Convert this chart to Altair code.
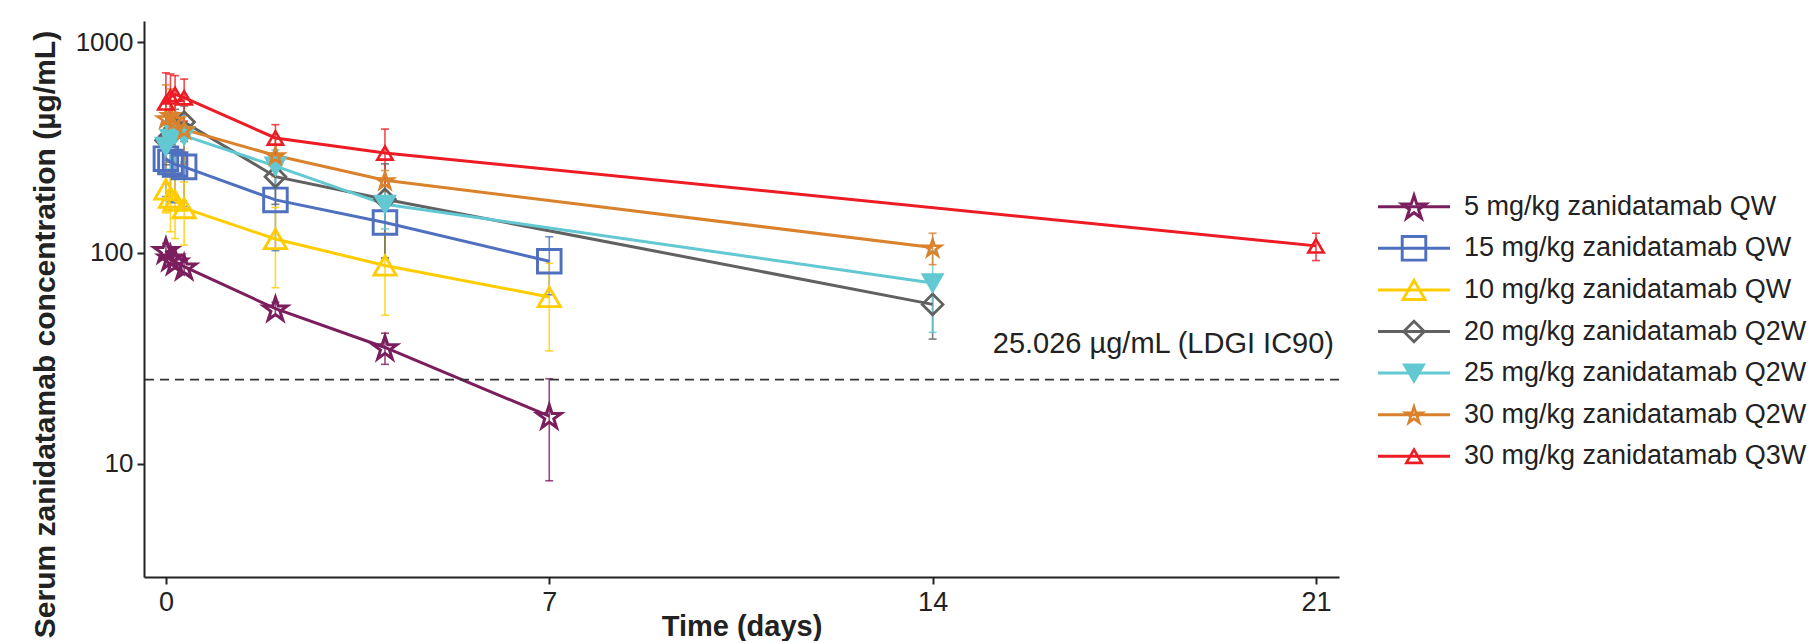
import altair as alt
import pandas as pd

FONT = "Liberation Sans"

SERIES = [
    "5 mg/kg zanidatamab QW",
    "15 mg/kg zanidatamab QW",
    "10 mg/kg zanidatamab QW",
    "20 mg/kg zanidatamab Q2W",
    "25 mg/kg zanidatamab Q2W",
    "30 mg/kg zanidatamab Q2W",
    "30 mg/kg zanidatamab Q3W",
]
COLORS = ["#7A1E5E", "#4F6FBF", "#FFCC00", "#616161", "#62C8D2", "#D9822B", "#ED1C24"]

# time points (days)
t_qw = [0, 0.083, 0.167, 0.333, 2, 4, 7]
t_q2w = [0, 0.083, 0.167, 0.333, 2, 4, 14]
t_q3w = [0, 0.083, 0.167, 0.333, 2, 4, 21]

# mean concentrations (µg/mL) and SD
mean_5qw = [103, 95, 91, 86, 54.4, 35.6, 16.8]
sd_5qw = [8, 7, 7, 6, 4, 6, 8.5]
mean_15qw = [280, 270, 263, 256, 178.5, 139.5, 91.3]
sd_15qw = [95, 95, 90, 90, 76, 45, 28]
mean_10qw = [200, 183, 177, 163, 116.4, 87.2, 61.8]
sd_10qw = [45, 57, 60, 54, 48, 36.6, 27.5]
mean_20q2w = [342, 360, 390, 418, 230, 179.7, 57]
sd_20q2w = [80, 90, 90, 80, 60, 85, 18]
mean_25q2w = [320, 350, 365, 360, 258, 170, 72]
sd_25q2w = [90, 100, 100, 90, 50, 40, 30]
mean_30q2w = [435, 450, 430, 385, 290, 221, 106]
sd_30q2w = [192, 150, 130, 120, 60, 25, 18]
mean_30q3w = [515, 550, 565, 545, 351, 298, 108]
sd_30q3w = [200, 156, 129, 123, 55, 89, 16]

LDGI_IC90 = 25.026
LDGI_LABEL = "25.026 µg/mL (LDGI IC90)"

X_TICKS = [0, 7, 14, 21]
Y_TICKS = [10, 100, 1000]

STAR = ("M0,-0.905L0.2245,-0.214L0.951,-0.214L0.363,0.213L0.588,0.904L0,0.477"
        "L-0.588,0.904L-0.363,0.213L-0.951,-0.214L-0.2245,-0.214Z")
SHAPES = [STAR, "square", "triangle-up", "diamond", "triangle-down", STAR, "triangle-up"]
FILLS = ["transparent", "transparent", "transparent", "transparent", "#62C8D2",
         "transparent", "transparent"]
SIZES = [620, 235, 450, 330, 260, 620, 210]
STROKES = [3.0, 2.6, 3.0, 2.6, 2.0, 3.0, 4.0]

times = [t_qw, t_qw, t_qw, t_q2w, t_q2w, t_q2w, t_q3w]
means = [mean_5qw, mean_15qw, mean_10qw, mean_20q2w, mean_25q2w, mean_30q2w, mean_30q3w]
sds = [sd_5qw, sd_15qw, sd_10qw, sd_20q2w, sd_25q2w, sd_30q2w, sd_30q3w]

rows = []
for name, tt, mm, ss in zip(SERIES, times, means, sds):
    for ti, mi, si in zip(tt, mm, ss):
        rows.append({"series": name, "t": ti, "conc": mi, "lo": mi - si, "hi": mi + si})
df = pd.DataFrame(rows)

XT = "Time (days)"
YT = "Serum zanidatamab concentration (µg/mL)"
xscale = alt.Scale(domain=[-0.4, 21.42], nice=False, zero=False)
yscale = alt.Scale(type="log", domain=[2.9, 1260], nice=False)
xaxis = alt.Axis(values=X_TICKS, title=XT, labelFontSize=27, labelPadding=5, titlePadding=-3)
yaxis = alt.Axis(values=Y_TICKS, format="d", title=YT, labelFontSize=26, labelPadding=4,
                 titlePadding=15, titleY=313, titleFontSize=30)

def X(f):
    return alt.X(f, scale=xscale, axis=xaxis, title=XT)

def Y(f):
    return alt.Y(f, scale=yscale, axis=yaxis, title=YT)

color = alt.Color("series:N", scale=alt.Scale(domain=SERIES, range=COLORS), legend=None)
shape = alt.Shape("series:N", scale=alt.Scale(domain=SERIES, range=SHAPES), legend=None)
fill = alt.Fill("series:N", scale=alt.Scale(domain=SERIES, range=FILLS), legend=None)
size = alt.Size("series:N", scale=alt.Scale(domain=SERIES, range=SIZES), legend=None)
sw = alt.StrokeWidth("series:N", scale=alt.Scale(domain=SERIES, range=STROKES), legend=None)

base = alt.Chart(df)
err = base.mark_rule(strokeWidth=1.6, opacity=0.8).encode(
    x=X("t:Q"), y=Y("lo:Q"), y2="hi:Q", color=color)
cap_lo = base.mark_point(shape="stroke", size=64, strokeWidth=1.6, opacity=0.8).encode(
    x=X("t:Q"), y=Y("lo:Q"), color=color)
cap_hi = base.mark_point(shape="stroke", size=64, strokeWidth=1.6, opacity=0.8).encode(
    x=X("t:Q"), y=Y("hi:Q"), color=color)
lines = base.mark_line(strokeWidth=3).encode(x=X("t:Q"), y=Y("conc:Q"), color=color)
pts = base.mark_point(filled=False, opacity=1).encode(
    x=X("t:Q"), y=Y("conc:Q"), color=color, shape=shape, fill=fill, size=size,
    strokeWidth=sw)

ref_df = pd.DataFrame({"conc": [LDGI_IC90], "label": [LDGI_LABEL]})
ref = alt.Chart(ref_df).mark_rule(strokeDash=[9, 6], strokeWidth=1.8, color="#333333").encode(
    y=Y("conc:Q"))
ref_txt = alt.Chart(ref_df).mark_text(
    align="right", baseline="alphabetic", dy=-27, fontSize=29, font=FONT, color="#222222"
).encode(x=alt.value(1190), y=Y("conc:Q"), text="label:N")

main = alt.layer(err, cap_lo, cap_hi, lines, pts, ref, ref_txt).properties(
    width=1195, height=556)

leg_df = pd.DataFrame({"series": SERIES})
ly = alt.Y("series:N", sort=SERIES, axis=None, scale=alt.Scale(type="point", range=[165, 456]))
leg_base = alt.Chart(leg_df)
leg_line = leg_base.mark_rule(strokeWidth=3).encode(
    x=alt.value(0), x2=alt.value(72), y=ly, color=color)
leg_pt = leg_base.mark_point(filled=False, opacity=1).encode(
    x=alt.value(36), y=ly, color=color, shape=shape, fill=fill, size=size, strokeWidth=sw)
leg_txt = leg_base.mark_text(align="left", baseline="middle", fontSize=27, font=FONT,
                             color="#222222").encode(x=alt.value(86), y=ly, text="series:N")
legend = alt.layer(leg_line, leg_pt, leg_txt).properties(width=350, height=556)

chart = alt.hconcat(main, legend, spacing=36).properties(
    padding={"left": 22, "top": 13, "right": 0, "bottom": 0}
).configure_view(stroke=None).configure_axis(
    domainColor="#222222", domainWidth=2, tickColor="#222222", tickWidth=2, tickSize=7,
    labelFont=FONT, labelColor="#222222", titleFont=FONT, titleFontWeight="bold",
    titleFontSize=29, titleColor="#222222", grid=False
)

chart.save("out.html", embed_options={"renderer": "svg", "actions": False})
